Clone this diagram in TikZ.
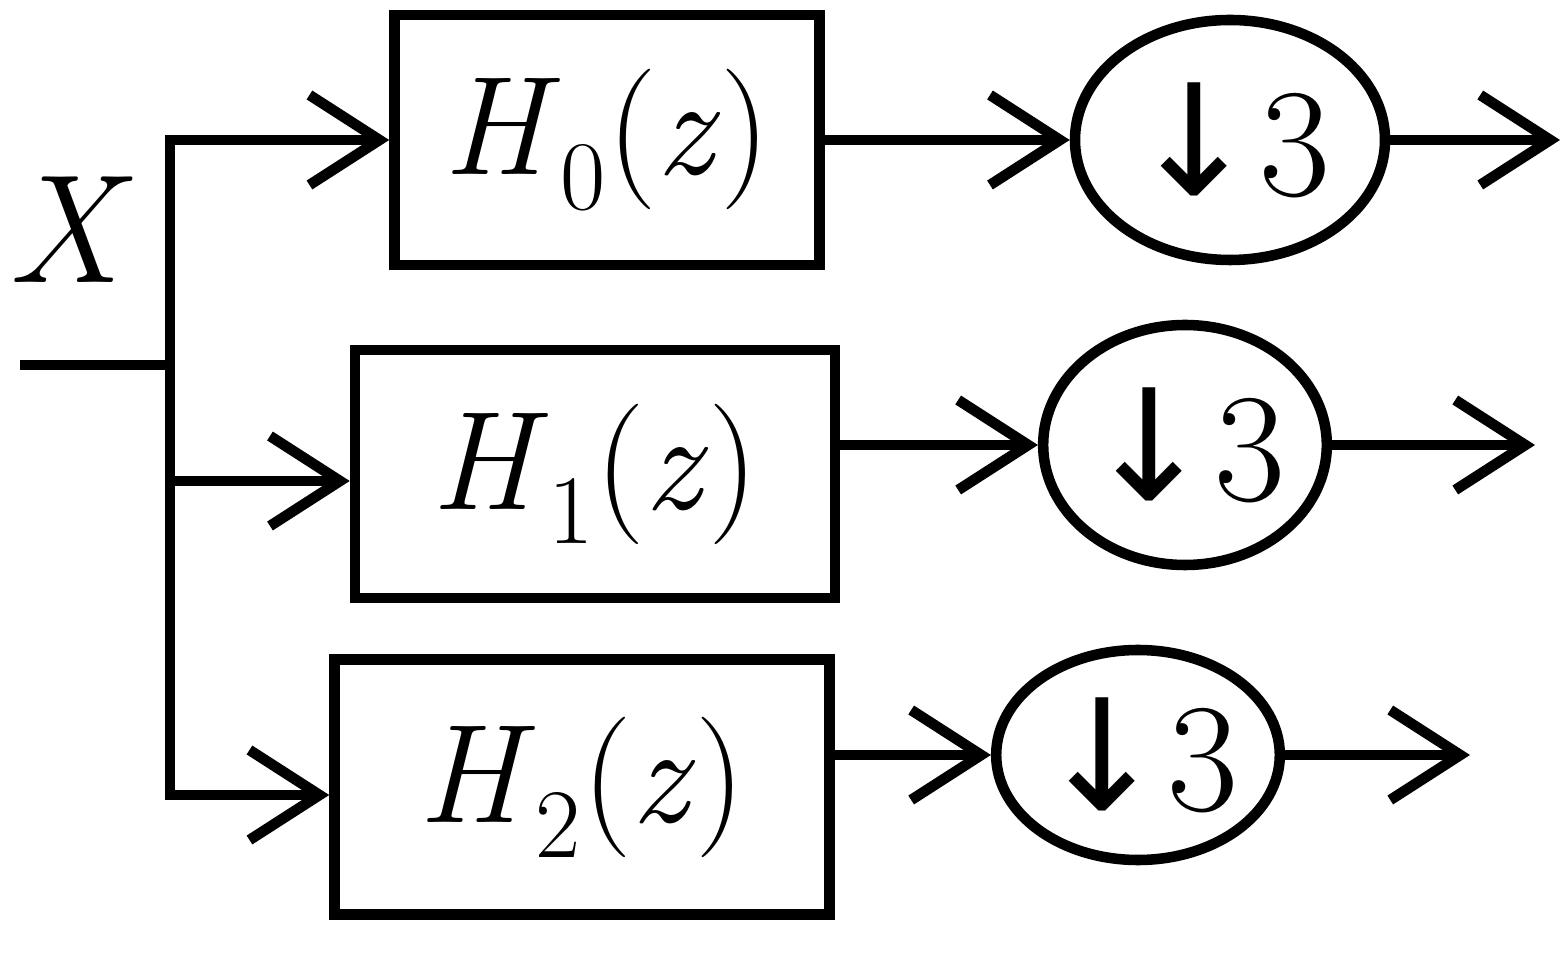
\documentclass[tikz,border=0pt]{standalone}
\usepackage{fontspec}
\newfontfamily\symfont{DejaVu Sans}
\usepackage{tikz}
\usetikzlibrary{positioning,shapes.geometric,arrows.meta}

\newcommand{\filtname}[1]{\textit{H}\textsubscript{#1}(\textit{z})}
\newcommand{\downthree}{{\symfont ↓}3}

\begin{document}
\begin{tikzpicture}[line width=3pt, >={Straight Barb[length=7mm,width=9mm]},
    filt/.style={draw, rectangle, font=\fontsize{40}{48}\selectfont},
    dec/.style={draw, ellipse, inner sep=0pt, font=\fontsize{44}{52}\selectfont}]
  \useasboundingbox (0,0) rectangle (15.67,9.61);
  % filters
  \node[filt, minimum width=4.25cm, minimum height=2.5cm] (h0) at (6.07,8.21) {\filtname{0}};
  \node[filt, minimum width=4.8cm, minimum height=2.48cm] (h1) at (5.95,4.87) {\filtname{1}};
  \node[filt, minimum width=4.95cm, minimum height=2.55cm] (h2) at (5.82,1.74) {\filtname{2}};
  % downsamplers
  \node[dec, minimum width=3.1cm, minimum height=2.4cm] (d0) at (12.30,8.21) {\downthree};
  \node[dec, minimum width=2.7cm, minimum height=2.4cm] (d1) at (11.85,5.16) {\downthree};
  \node[dec, minimum width=2.35cm, minimum height=2.1cm] (d2) at (11.38,2.06) {\downthree};
  % input and branch points
  \node[font=\fontsize{44}{52}\selectfont] (x) at (0.7,7.31) {\textit{X}};
  \coordinate (in) at (0.2,5.96);
  \coordinate (j) at (1.7,5.96);
  \coordinate (b0) at (1.7,8.21);
  \coordinate (b1) at (1.7,4.8);
  \coordinate (b2) at (1.7,1.66);
  \coordinate (o0) at (15.6,8.21);
  \coordinate (o1) at (15.35,5.16);
  \coordinate (o2) at (14.7,2.06);
  \draw (in) -- (j);
  \draw[line cap=rect] (b0) -- (b2);
  \draw[->] (b0) -- (h0);
  \draw[->] (b1) -- (b1 -| h1.west);
  \draw[->] (b2) -- (b2 -| h2.west);
  \draw[->] (h0) -- (d0);
  \draw[->] (h1.east |- d1) -- (d1);
  \draw[->] (h2.east |- d2) -- (d2);
  \draw[->] (d0) -- (o0);
  \draw[->] (d1) -- (o1);
  \draw[->] (d2) -- (o2);
\end{tikzpicture}
\end{document}
